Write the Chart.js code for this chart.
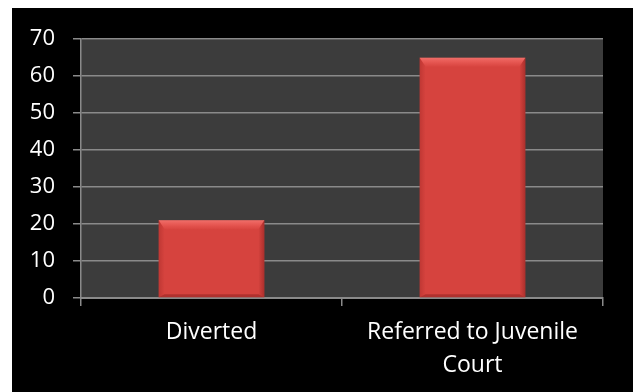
<!DOCTYPE html>
<html lang="en">
<head>
    <meta charset="UTF-8">
    <title>Case Outcomes</title>
    <script src="https://cdn.jsdelivr.net/npm/chart.js"></script>
    <style>
        html, body { margin: 0; padding: 0; background: #ffffff; }
        #chartContainer {
            position: absolute;
            left: 12px;
            top: 8px;
            width: 621px;
            height: 384px;
            background: #000000;
        }
    </style>
</head>
<body>
    <div id="chartContainer">
        <canvas id="outcomeChart"></canvas>
    </div>

    <script>
        const categories = ['Diverted', ['Referred to Juvenile', 'Court']];
        const counts = [21, 65];
        const yTicks = [0, 10, 20, 30, 40, 50, 60, 70];

        const gridColor = '#8a8a8a';

        // fond gris de la zone de tracé
        const plotBackground = {
            id: 'plotBackground',
            beforeDraw(chart) {
                const { ctx, chartArea: a } = chart;
                ctx.save();
                ctx.fillStyle = '#3c3c3c';
                ctx.fillRect(a.left, a.top, a.right - a.left, a.bottom - a.top);
                ctx.restore();
            }
        };

        // effet biseauté sur chaque barre
        const bevelBars = {
            id: 'bevelBars',
            afterDatasetsDraw(chart) {
                const ctx = chart.ctx;
                chart.getDatasetMeta(0).data.forEach(bar => {
                    const l = bar.x - bar.width / 2, r = bar.x + bar.width / 2;
                    const t = bar.y, b = bar.base;
                    const bt = 9, bs = 6, bb = 3;
                    ctx.save();
                    // haut clair
                    let g = ctx.createLinearGradient(0, t, 0, t + bt);
                    g.addColorStop(0, 'rgba(255,140,135,0.6)');
                    g.addColorStop(0.4, 'rgba(255,120,115,0.45)');
                    g.addColorStop(1, 'rgba(255,110,105,0.05)');
                    ctx.fillStyle = g;
                    ctx.beginPath();
                    ctx.moveTo(l, t); ctx.lineTo(r, t);
                    ctx.lineTo(r - bs, t + bt); ctx.lineTo(l + bs, t + bt);
                    ctx.closePath(); ctx.fill();
                    // côtés légèrement plus sombres
                    g = ctx.createLinearGradient(l, 0, l + bs, 0);
                    g.addColorStop(0, 'rgba(110,15,15,0.22)');
                    g.addColorStop(1, 'rgba(110,15,15,0.0)');
                    ctx.fillStyle = g;
                    ctx.beginPath();
                    ctx.moveTo(l, t); ctx.lineTo(l + bs, t + bt);
                    ctx.lineTo(l + bs, b - bb); ctx.lineTo(l, b);
                    ctx.closePath(); ctx.fill();
                    g = ctx.createLinearGradient(r, 0, r - bs, 0);
                    g.addColorStop(0, 'rgba(90,10,10,0.35)');
                    g.addColorStop(1, 'rgba(90,10,10,0.0)');
                    ctx.fillStyle = g;
                    ctx.beginPath();
                    ctx.moveTo(r, t); ctx.lineTo(r - bs, t + bt);
                    ctx.lineTo(r - bs, b - bb); ctx.lineTo(r, b);
                    ctx.closePath(); ctx.fill();
                    // bas foncé
                    ctx.fillStyle = 'rgba(90,10,10,0.3)';
                    ctx.beginPath();
                    ctx.moveTo(l, b); ctx.lineTo(l + bs, b - bb);
                    ctx.lineTo(r - bs, b - bb); ctx.lineTo(r, b);
                    ctx.closePath(); ctx.fill();
                    ctx.restore();
                });
            }
        };

        const ctx = document.getElementById('outcomeChart').getContext('2d');

        new Chart(ctx, {
            type: 'bar',
            data: {
                labels: categories,
                datasets: [{
                    data: counts,
                    backgroundColor: '#d6433e',
                    borderWidth: 0,
                    barPercentage: 0.405,
                    categoryPercentage: 1
                }]
            },
            options: {
                responsive: true,
                maintainAspectRatio: false,
                animation: false,
                layout: { padding: { left: 0, top: 30, right: 30, bottom: 0 } },
                plugins: {
                    legend: { display: false },
                    tooltip: { enabled: false }
                },
                scales: {
                    x: {
                        grid: {
                            offset: true,
                            drawOnChartArea: false,
                            drawTicks: true,
                            tickLength: 8,
                            color: gridColor,
                            lineWidth: 1.5
                        },
                        border: { color: gridColor, width: 2 },
                        ticks: {
                            color: '#ffffff',
                            padding: 10,
                            maxRotation: 0,
                            font: { family: 'Open Sans', size: 23, lineHeight: 1.43 }
                        },
                        afterFit(scale) { scale.height = 94; }
                    },
                    y: {
                        min: 0,
                        max: 70,
                        afterBuildTicks(scale) {
                            scale.ticks = yTicks.map(v => ({ value: v }));
                        },
                        grid: {
                            color: gridColor,
                            lineWidth: 1.5,
                            tickLength: 8
                        },
                        border: { color: gridColor, width: 1.5 },
                        ticks: {
                            color: '#ffffff',
                            padding: 18,
                            font: { family: 'Open Sans', size: 22 }
                        },
                        afterFit(scale) { scale.width = 69; }
                    }
                }
            },
            plugins: [plotBackground, bevelBars]
        });
    </script>
</body>
</html>
